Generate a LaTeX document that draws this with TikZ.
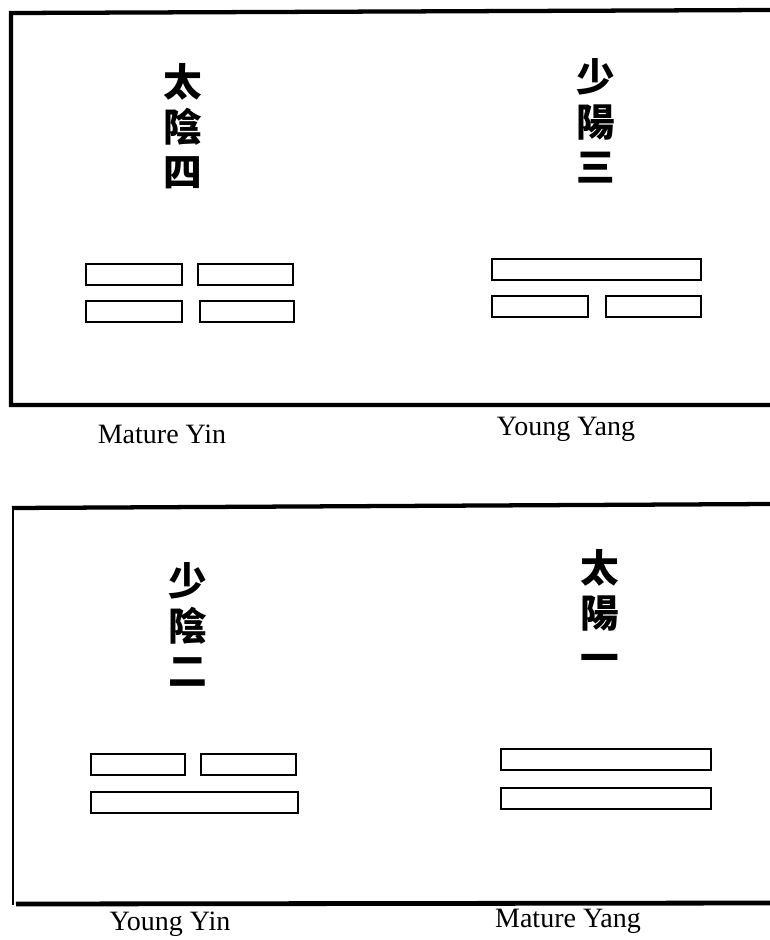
\documentclass[tikz,border=0pt]{standalone}
\usepackage{fontspec}
\setmainfont{Liberation Serif}
\newfontfamily\cjk{Noto Sans CJK TC}
\begin{document}
\begin{tikzpicture}[x=0.75pt,y=-0.75pt,
  bar/.style={draw,line width=1.5pt,inner sep=0pt,anchor=north west,minimum height=15.75pt},
  frame/.style={line width=3.2pt,line cap=butt},
  chars/.style={font=\cjk\bfseries\fontsize{29pt}{33.75pt}\selectfont,align=center,inner sep=0pt},
  lbl/.style={font=\fontsize{21pt}{24pt}\selectfont,inner sep=0pt}]
\useasboundingbox (0,0) rectangle (770,940);
% top frame
\draw[frame] (770,10) -- (11,13) -- (11,405) -- (770,405);
% bottom frame
\draw[frame] (770,504) -- (12,508);
\draw[line width=1.2pt] (13,508) -- (13,905);
\draw[line width=3.6pt] (16,904) -- (770,903);
% characters
\node[chars] (c1) at (183,126) {太\\陰\\四};
\node[chars] (c2) at (596,121) {少\\陽\\三};
\node[chars] (c3) at (188,624) {少\\陰\\二};
\node[chars] (c4) at (600,611) {太\\陽\\一};
% top-left bars
\node[bar,minimum width=72pt] (tl1) at (85,263) {};
\node[bar,minimum width=71.25pt] (tl2) at (197,263) {};
\node[bar,minimum width=72pt] (tl3) at (85,300) {};
\node[bar,minimum width=70.5pt] (tl4) at (199,300) {};
% top-right bars
\node[bar,minimum width=156.75pt] (tr1) at (491,258) {};
\node[bar,minimum width=72pt] (tr2) at (491,295) {};
\node[bar,minimum width=71.25pt] (tr3) at (605,295) {};
% bottom-left bars
\node[bar,minimum width=70.5pt] (bl1) at (90,753) {};
\node[bar,minimum width=71.25pt] (bl2) at (200,753) {};
\node[bar,minimum width=155.25pt] (bl3) at (90,791) {};
% bottom-right bars
\node[bar,minimum width=157.5pt] (br1) at (500,748) {};
\node[bar,minimum width=157.5pt] (br2) at (500,787) {};
% labels
\node[lbl] (l1) at (162,434) {Mature Yin};
\node[lbl] (l2) at (566,429) {Young Yang};
\node[lbl] (l3) at (170,924) {Young Yin};
\node[lbl] (l4) at (568,921) {Mature Yang};
\end{tikzpicture}
\end{document}
